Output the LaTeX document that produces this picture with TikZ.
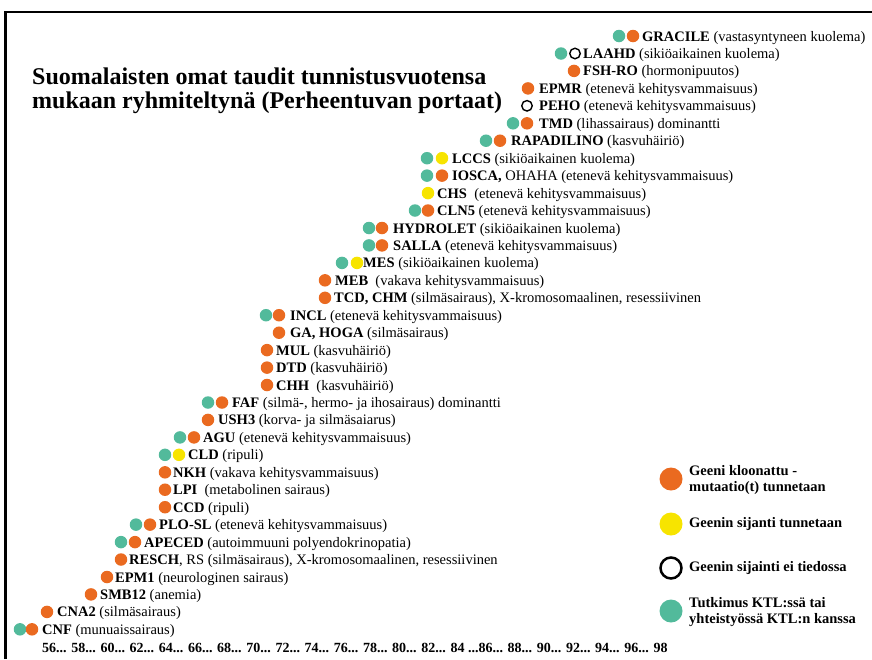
\documentclass[tikz,border=0pt]{standalone}
\usepackage{fontspec}
\setmainfont{Liberation Serif}
\definecolor{kloon}{RGB}{234,106,32}
\definecolor{sijanti}{RGB}{247,228,0}
\definecolor{ktl}{RGB}{82,186,155}

\begin{document}
\begin{tikzpicture}[x=1pt,y=-1pt,
    pallo/.style={circle,inner sep=0pt,minimum size=12.5pt},
    kl/.style={pallo,fill=kloon},
    sj/.style={pallo,fill=sijanti},
    ei/.style={pallo,draw=black,line width=1.4pt,minimum size=10.5pt},
    kt/.style={pallo,fill=ktl},
    iso/.style={minimum size=23pt},
    lbl/.style={anchor=west,inner sep=0pt,text height=10pt,text depth=0pt,
      font=\fontsize{14.5}{17}\selectfont},
    selite/.style={anchor=west,inner sep=0pt,align=left,
      font=\fontsize{14.5}{16}\selectfont\bfseries}]
    \useasboundingbox (0,0) rectangle (872,659);
    \draw[line width=2.7pt] (5.3,659) -- (5.3,12) -- (872,12);
    \node[anchor=west,inner sep=0pt,align=left,
      font=\fontsize{24}{24.5}\selectfont\bfseries] (otsikko) at (32,91)
      {Suomalaisten omat taudit tunnistusvuotensa\\mukaan ryhmiteltynä (Perheentuvan portaat)};
    % taudit, uusin ylimpänä
    \node[kt] (gracile-kt) at (619,36) {};
    \node[kl] (gracile-kl) at (633,36) {};
    \node[lbl] (gracile) at (642,36) {\textbf{GRACILE} (vastasyntyneen kuolema)};
    \node[kt] (laahd-kt) at (561,53.5) {};
    \node[ei] (laahd-ei) at (575,53.5) {};
    \node[lbl] (laahd) at (583,53.5) {\textbf{LAAHD} (sikiöaikainen kuolema)};
    \node[kl] (fshro-kl) at (574,70.9) {};
    \node[lbl] (fshro) at (583,70.9) {\textbf{FSH-RO} (hormonipuutos)};
    \node[kl] (epmr-kl) at (528,88.4) {};
    \node[lbl] (epmr) at (539,88.4) {\textbf{EPMR} (etenevä kehitysvammaisuus)};
    \node[ei] (peho-ei) at (527,105.8) {};
    \node[lbl] (peho) at (539,105.8) {\textbf{PEHO} (etenevä kehitysvammaisuus)};
    \node[kt] (tmd-kt) at (513,123.3) {};
    \node[kl] (tmd-kl) at (527,123.3) {};
    \node[lbl] (tmd) at (539,123.3) {\textbf{TMD} (lihassairaus) dominantti};
    \node[kt] (rapadilino-kt) at (486,140.7) {};
    \node[kl] (rapadilino-kl) at (500,140.7) {};
    \node[lbl] (rapadilino) at (511,140.7) {\textbf{RAPADILINO} (kasvuhäiriö)};
    \node[kt] (lccs-kt) at (427,158.2) {};
    \node[sj] (lccs-sj) at (442,158.2) {};
    \node[lbl] (lccs) at (452,158.2) {\textbf{LCCS} (sikiöaikainen kuolema)};
    \node[kt] (iosca-kt) at (427,175.6) {};
    \node[kl] (iosca-kl) at (442,175.6) {};
    \node[lbl] (iosca) at (452,175.6) {\textbf{IOSCA,} OHAHA (etenevä kehitysvammaisuus)};
    \node[sj] (chs-sj) at (428,193.1) {};
    \node[lbl] (chs) at (437,193.1) {\textbf{CHS}\ \ (etenevä kehitysvammaisuus)};
    \node[kt] (cln5-kt) at (415,210.5) {};
    \node[kl] (cln5-kl) at (428,210.5) {};
    \node[lbl] (cln5) at (437,210.5) {\textbf{CLN5} (etenevä kehitysvammaisuus)};
    \node[kt] (hydrolet-kt) at (369,228) {};
    \node[kl] (hydrolet-kl) at (382,228) {};
    \node[lbl] (hydrolet) at (393,228) {\textbf{HYDROLET} (sikiöaikainen kuolema)};
    \node[kt] (salla-kt) at (369,245.4) {};
    \node[kl] (salla-kl) at (382,245.4) {};
    \node[lbl] (salla) at (393,245.4) {\textbf{SALLA} (etenevä kehitysvammaisuus)};
    \node[kt] (mes-kt) at (342,262.9) {};
    \node[sj] (mes-sj) at (357,262.9) {};
    \node[lbl] (mes) at (363,262.9) {\textbf{MES} (sikiöaikainen kuolema)};
    \node[kl] (meb-kl) at (325,280.3) {};
    \node[lbl] (meb) at (335,280.3) {\textbf{MEB}\ \ (vakava kehitysvammaisuus)};
    \node[kl] (tcd-kl) at (325,297.8) {};
    \node[lbl] (tcd) at (334,297.8) {\textbf{TCD, CHM} (silmäsairaus), X-kromosomaalinen, resessiivinen};
    \node[kt] (incl-kt) at (266,315.2) {};
    \node[kl] (incl-kl) at (279,315.2) {};
    \node[lbl] (incl) at (290,315.2) {\textbf{INCL} (etenevä kehitysvammaisuus)};
    \node[kl] (ga-kl) at (279,332.7) {};
    \node[lbl] (ga) at (290,332.7) {\textbf{GA, HOGA} (silmäsairaus)};
    \node[kl] (mul-kl) at (267,350.1) {};
    \node[lbl] (mul) at (276,350.1) {\textbf{MUL} (kasvuhäiriö)};
    \node[kl] (dtd-kl) at (267,367.6) {};
    \node[lbl] (dtd) at (276,367.6) {\textbf{DTD} (kasvuhäiriö)};
    \node[kl] (chh-kl) at (267,385) {};
    \node[lbl] (chh) at (276,385) {\textbf{CHH}\ \ (kasvuhäiriö)};
    \node[kt] (faf-kt) at (208,402.5) {};
    \node[kl] (faf-kl) at (222,402.5) {};
    \node[lbl] (faf) at (232,402.5) {\textbf{FAF} (silmä-, hermo- ja ihosairaus) dominantti};
    \node[kl] (ush3-kl) at (208,419.9) {};
    \node[lbl] (ush3) at (218,419.9) {\textbf{USH3} (korva- ja silmäsaiarus)};
    \node[kt] (agu-kt) at (180,437.4) {};
    \node[kl] (agu-kl) at (194,437.4) {};
    \node[lbl] (agu) at (203,437.4) {\textbf{AGU} (etenevä kehitysvammaisuus)};
    \node[kt] (cld-kt) at (165,454.8) {};
    \node[sj] (cld-sj) at (179,454.8) {};
    \node[lbl] (cld) at (188,454.8) {\textbf{CLD} (ripuli)};
    \node[kl] (nkh-kl) at (165,472.3) {};
    \node[lbl] (nkh) at (173,472.3) {\textbf{NKH} (vakava kehitysvammaisuus)};
    \node[kl] (lpi-kl) at (165,489.7) {};
    \node[lbl] (lpi) at (173,489.7) {\textbf{LPI}\ \ (metabolinen sairaus)};
    \node[kl] (ccd-kl) at (165,507.2) {};
    \node[lbl] (ccd) at (173,507.2) {\textbf{CCD} (ripuli)};
    \node[kt] (plosl-kt) at (136,524.6) {};
    \node[kl] (plosl-kl) at (150,524.6) {};
    \node[lbl] (plosl) at (159,524.6) {\textbf{PLO-SL} (etenevä kehitysvammaisuus)};
    \node[kt] (apeced-kt) at (121,542.1) {};
    \node[kl] (apeced-kl) at (135,542.1) {};
    \node[lbl] (apeced) at (144,542.1) {\textbf{APECED} (autoimmuuni polyendokrinopatia)};
    \node[kl] (resch-kl) at (121,559.5) {};
    \node[lbl] (resch) at (129,559.5) {\textbf{RESCH}, RS (silmäsairaus), X-kromosomaalinen, resessiivinen};
    \node[kl] (epm1-kl) at (107,577) {};
    \node[lbl] (epm1) at (115,577) {\textbf{EPM1} (neurologinen sairaus)};
    \node[kl] (smb12-kl) at (91,594.4) {};
    \node[lbl] (smb12) at (100,594.4) {\textbf{SMB12} (anemia)};
    \node[kl] (cna2-kl) at (47,611.9) {};
    \node[lbl] (cna2) at (57,611.9) {\textbf{CNA2} (silmäsairaus)};
    \node[kt] (cnf-kt) at (20,629.3) {};
    \node[kl] (cnf-kl) at (32,629.3) {};
    \node[lbl] (cnf) at (42,629.3) {\textbf{CNF} (munuaissairaus)};
    \node[lbl,font=\fontsize{14}{17}\selectfont\bfseries] (vuodet) at (42,647.5)
      {56... 58... 60... 62... 64... 66... 68... 70... 72... 74... 76... 78... 80... 82... 84 ...86... 88... 90... 92... 94... 96... 98};
    % selitteet
    \node[kl,iso] (sel-kl) at (671,479) {};
    \node[selite] (sel-kl-t) at (689,480) {Geeni kloonattu -\\mutaatio(t) tunnetaan};
    \node[sj,iso] (sel-sj) at (671,524) {};
    \node[selite] (sel-sj-t) at (689,524) {Geenin sijanti tunnetaan};
    \node[ei,iso,line width=2.5pt,minimum size=21pt] (sel-ei) at (671,568) {};
    \node[selite] (sel-ei-t) at (689,568) {Geenin sijainti ei tiedossa};
    \node[kt,iso] (sel-kt) at (671,611) {};
    \node[selite] (sel-kt-t) at (689,612) {Tutkimus KTL:ssä tai\\yhteistyössä KTL:n kanssa};
\end{tikzpicture}
\end{document}
